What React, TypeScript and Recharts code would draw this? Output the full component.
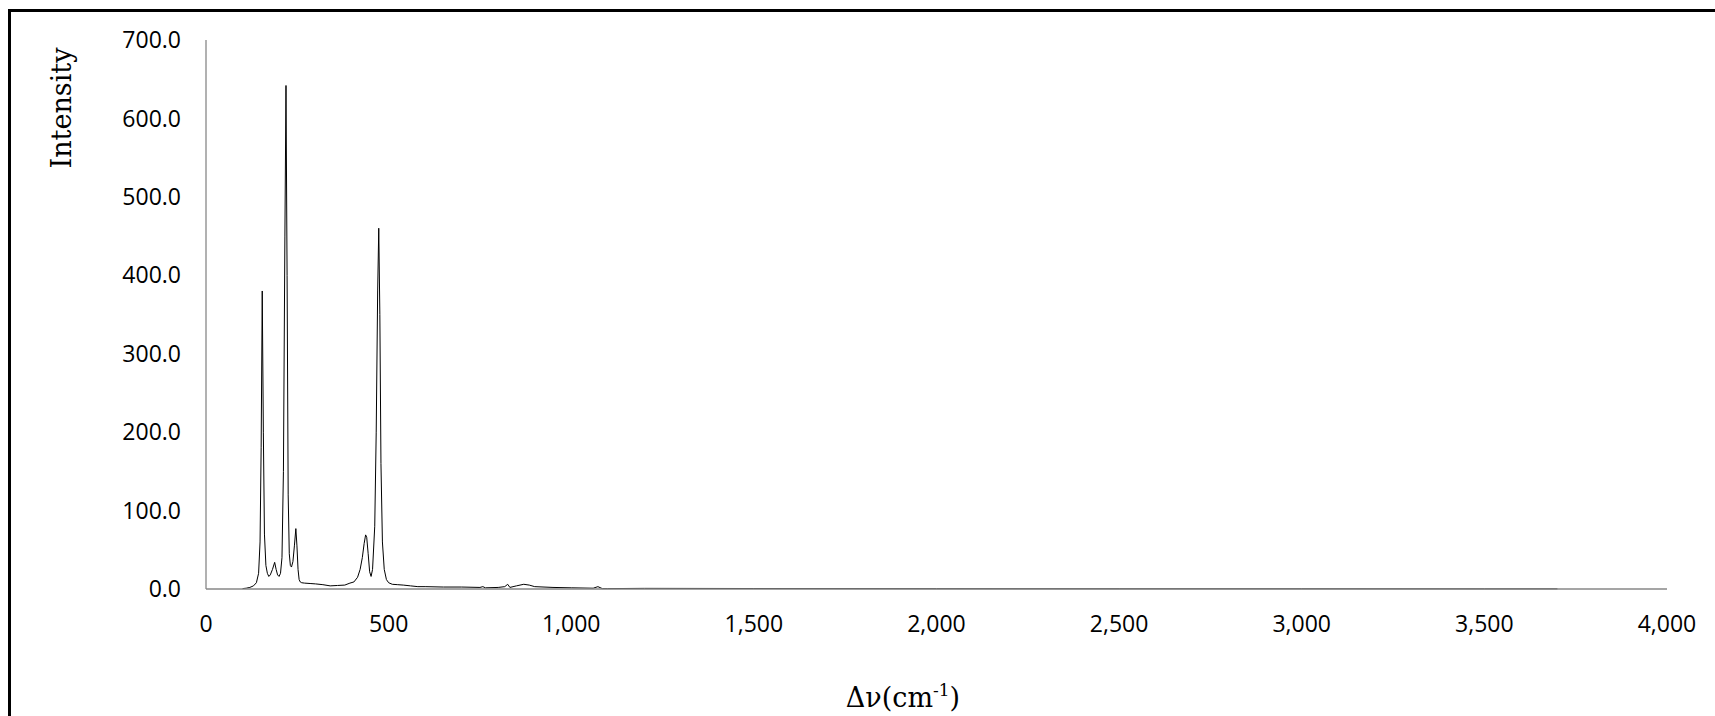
import React from 'react';
import { LineChart, Line, XAxis, YAxis, Label } from 'recharts';

const wavenumbers = [
  100, 110, 120, 130, 138, 144, 148, 151, 154, 157, 160, 164, 168, 172, 176, 182, 188, 192, 196, 200,
  204, 208, 212, 216, 219, 222, 225, 228, 231, 234, 238, 242, 246, 249, 252, 255, 258, 262, 270, 285,
  300, 320, 340, 360, 380, 394, 405, 415, 422, 428, 433, 437, 440, 444, 448, 452, 456, 462, 466, 470,
  473, 476, 479, 483, 488, 494, 500, 510, 525, 540, 560, 580, 600, 650, 700, 750, 758, 765, 800, 818,
  826, 832, 850, 870, 885, 900, 950, 1000, 1060, 1073, 1085, 1100, 1200, 1500, 2000, 2500, 3000, 3500, 3700,
];

const intensities = [
  0.5, 1, 2, 4, 8, 20, 60, 180, 380, 200, 70, 30, 20, 16, 18, 25, 34, 25, 18, 16,
  20, 40, 150, 450, 642, 400, 120, 45, 30, 28, 35, 55, 77, 55, 25, 12, 9, 8, 7.5, 7,
  6.5, 5.5, 4, 4.5, 5, 7.5, 9, 15, 25, 40, 58, 69, 66, 45, 22, 16, 25, 80, 200, 380,
  460, 350, 160, 60, 25, 12, 8, 6, 5.5, 5, 4, 3, 3, 2.5, 2.5, 2, 3, 1.5, 2, 3,
  6, 2, 4, 6, 5, 3, 2, 1.5, 1, 3, 0.5, 0.5, 0.8, 0.6, 0.4, 0.3, 0.3, 0.2, 0.2,
];

const xTicks = [0, 500, 1000, 1500, 2000, 2500, 3000, 3500, 4000];
const yTicks = [0, 100, 200, 300, 400, 500, 600, 700];

const data = wavenumbers.map((x, i) => ({ x, y: intensities[i] }));

const tickStyle = { fontFamily: 'Open Sans', fontSize: 23, fill: '#000000' };

const YTitle = () => (
  <text
    x={71}
    y={108}
    transform="rotate(-90, 71, 108)"
    textAnchor="middle"
    fontFamily="DejaVu Serif"
    fontSize={27}
    fill="#000000"
  >
    Intensity
  </text>
);

const XTitle = () => (
  <text x={903} y={707} textAnchor="middle" fontFamily="DejaVu Serif" fontSize={27} fill="#000000">
    Δν(cm
    <tspan fontSize={17} dy={-11}>-1</tspan>
    <tspan dy={11}>)</tspan>
  </text>
);

export default function App() {
  return (
    <div
      style={{
        position: 'fixed',
        left: 0,
        top: 0,
        width: 1715,
        height: 716,
        overflow: 'hidden',
        background: '#ffffff',
      }}
    >
      <div
        style={{
          position: 'absolute',
          left: 8,
          top: 9,
          width: 1800,
          height: 800,
          border: '3px solid #000000',
        }}
      />
      <div style={{ position: 'absolute', left: 0, top: 0 }}>
        <LineChart
          width={1715}
          height={716}
          data={data}
          margin={{ top: 40, right: 48, bottom: 67, left: 106 }}
        >
          <XAxis
            dataKey="x"
            type="number"
            domain={[0, 4000]}
            ticks={xTicks}
            interval={0}
            tickFormatter={(v: number) => v.toLocaleString('en-US')}
            tick={tickStyle}
            tickLine={false}
            tickSize={0}
            tickMargin={27}
            height={60}
            axisLine={{ stroke: '#878787', strokeWidth: 1.3 }}
          >
            <Label content={() => <XTitle />} />
          </XAxis>
          <YAxis
            type="number"
            domain={[0, 700]}
            ticks={yTicks}
            interval={0}
            tickFormatter={(v: number) => v.toFixed(1)}
            tick={tickStyle}
            tickLine={false}
            tickSize={0}
            tickMargin={25}
            width={100}
            axisLine={{ stroke: '#878787', strokeWidth: 1.3 }}
          >
            <Label content={() => <YTitle />} />
          </YAxis>
          <Line
            type="linear"
            dataKey="y"
            stroke="#000000"
            strokeWidth={1}
            dot={false}
            isAnimationActive={false}
          />
        </LineChart>
      </div>
    </div>
  );
}
